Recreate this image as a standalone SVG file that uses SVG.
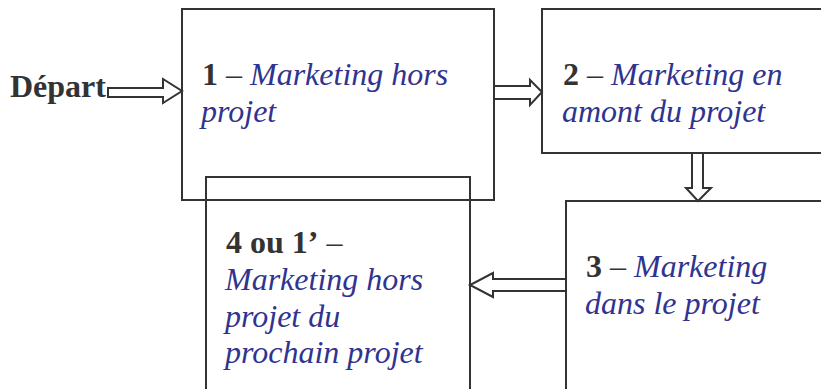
<svg xmlns="http://www.w3.org/2000/svg" width="821" height="389" viewBox="0 0 821 389">
<style>
.box{fill:none;stroke:#333;stroke-width:2}
.arr{fill:#fff;stroke:#333;stroke-width:2;stroke-linejoin:miter}
text{font-family:"Liberation Serif","Times New Roman",serif;font-size:32px}
.b{font-weight:bold;fill:#333}
.i{font-style:italic;fill:#30338f}
.d{fill:#333}
</style>
<rect width="821" height="389" fill="#fff"/>
<g id="connectors">
<polygon class="arr" points="108,88 163,88 163,79 182,91 163,103 163,97 108,97"/>
<polygon class="arr" points="494,86 530,86 530,80 542,92 530,105 530,99 494,99"/>
<polygon class="arr" points="692,153 692,188 686,188 698,201 711,188 703,188 703,153"/>
<polygon class="arr" points="566,279 493,279 493,273 470,285 493,297 493,291 566,291"/>
</g>
<g id="start">
<text x="10" y="97" class="b">Départ</text>
</g>
<g id="node1">
<rect class="box" x="182" y="9" width="312" height="191"/>
<text x="202" y="85"><tspan class="b">1</tspan><tspan class="d"> – </tspan><tspan class="i">Marketing hors</tspan></text>
<text x="201" y="122" class="i">projet</text>
</g>
<g id="node2">
<rect class="box" x="542" y="9" width="290" height="144"/>
<text x="563" y="85"><tspan class="b">2</tspan><tspan class="d"> – </tspan><tspan class="i">Marketing en</tspan></text>
<text x="562" y="122" class="i">amont du projet</text>
</g>
<g id="node3">
<rect class="box" x="566" y="201" width="270" height="200"/>
<text x="586" y="277"><tspan class="b">3</tspan><tspan class="d"> – </tspan><tspan class="i">Marketing</tspan></text>
<text x="585" y="314" class="i">dans le projet</text>
</g>
<g id="node4">
<rect class="box" x="206" y="177" width="264" height="224"/>
<text x="226" y="253"><tspan class="b">4 ou 1’</tspan><tspan class="d"> –</tspan></text>
<text x="225" y="290" class="i">Marketing hors</text>
<text x="225" y="327" class="i">projet du</text>
<text x="225" y="363" class="i">prochain projet</text>
</g>
</svg>
